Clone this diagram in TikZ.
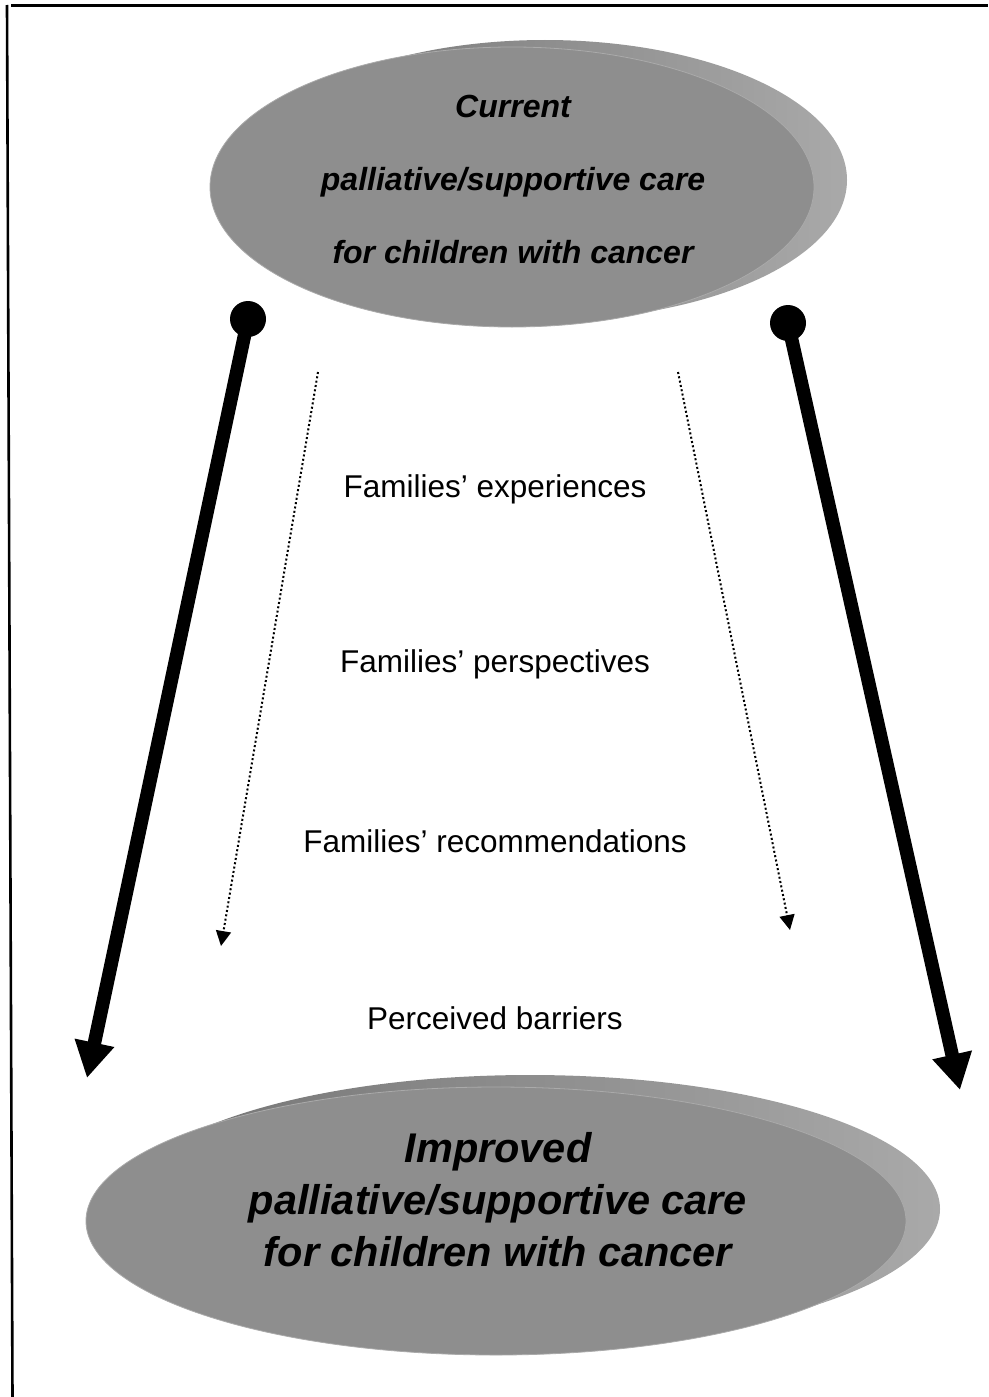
\documentclass[tikz,border=0pt]{standalone}
\usepackage{fontspec}
\setmainfont{Liberation Sans}
\usepackage{xcolor}
\usetikzlibrary{shapes.geometric,arrows.meta}
\definecolor{facegray}{HTML}{8E8E8E}
\definecolor{rimdark}{HTML}{727272}
\definecolor{rimlight}{HTML}{A9A9A9}
\tikzstyle{face} = [ellipse, fill=facegray, draw=facegray!75!white, line width=0.8pt, inner sep=0pt]
\tikzstyle{rim} = [ellipse, inner sep=0pt, left color=rimdark, right color=rimlight]
\tikzstyle{knob} = [circle, fill=black, inner sep=0pt, minimum size=36pt]
\tikzstyle{bigarrow} = [line width=13.5pt, -{Triangle[length=36pt,width=38pt]}]
\tikzstyle{dotarrow} = [line width=2pt, dash pattern=on 2pt off 2.4pt,%
	-{Triangle[length=15pt,width=15pt]}]
\tikzstyle{lbl} = [font=\fontsize{31.5}{31.5}\selectfont]
\tikzstyle{toptxt} = [align=center, font=\fontsize{32}{73}\selectfont\bfseries\itshape]
\tikzstyle{bottxt} = [align=center, font=\fontsize{41.5}{52}\selectfont\bfseries\itshape]

\begin{document}
\begin{tikzpicture}[x=1pt, y=-1pt]
		\useasboundingbox (0,0) rectangle (988,1397);
		% frame
		\draw[line width=3pt] (11,6) -- (988,6);
		\draw[line width=2.6pt] (7,5) -- (12.5,1397);
		% top ellipse
		\node[rim, minimum width=604pt, minimum height=280pt] (currim) at (545,180) {};
		\node[face, minimum width=604pt, minimum height=280pt] (cur) at (512,187) {};
		\node[toptxt] (curtxt) at (513,179) {Current\\palliative/supportive care\\for children with cancer};
		% bottom ellipse
		\node[rim, minimum width=820pt, minimum height=268pt] (imprim) at (530,1209) {};
		\node[face, minimum width=820pt, minimum height=268pt] (imp) at (496,1221) {};
		\node[bottxt] (imptxt) at (498,1200) {Improved\\palliative/supportive care\\for children with cancer};
		% labels
		\node[lbl] (exper) at (495,489) {Families’ experiences};
		\node[lbl] (persp) at (495,664) {Families’ perspectives};
		\node[lbl] (recom) at (495,841) {Families’ recommendations};
		\node[lbl] (barr) at (495,1018) {Perceived barriers};
		% arrows
		\node[knob] (lknob) at (248,319) {};
		\node[knob] (rknob) at (788,323) {};
		\coordinate (ltip) at (87,1078);
		\coordinate (rtip) at (960,1090);
		\draw[bigarrow] (lknob.center) -- (ltip);
		\draw[bigarrow] (rknob.center) -- (rtip);
		\coordinate (ldot) at (318,372);
		\coordinate (ldotend) at (221,946);
		\coordinate (rdot) at (678,372);
		\coordinate (rdotend) at (790,930);
		\draw[dotarrow] (ldot) -- (ldotend);
		\draw[dotarrow] (rdot) -- (rdotend);
	\end{tikzpicture}
\end{document}
